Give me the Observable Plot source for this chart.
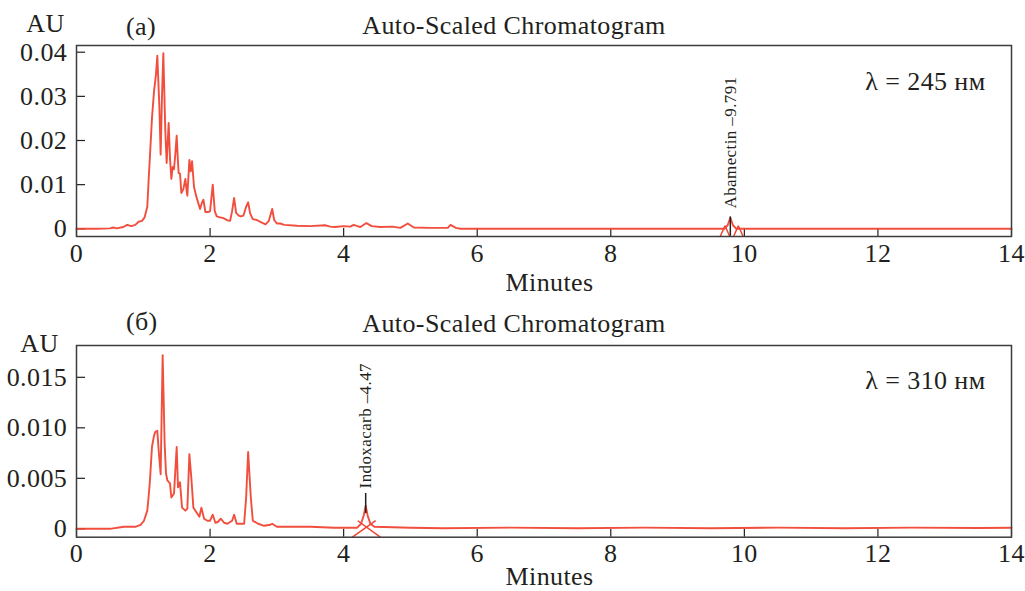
<!DOCTYPE html>
<html><head><meta charset="utf-8">
<script src="https://cdn.jsdelivr.net/npm/d3@7"></script>
<script src="https://cdn.jsdelivr.net/npm/@observablehq/plot@0.6"></script>
<style>body{margin:0;background:#fff}#c{width:1025px;height:591px;overflow:hidden}#c svg{display:block}</style>
</head><body><div id="c"></div><script>
// ---- data ----
const xTicks = [0, 2, 4, 6, 8, 10, 12, 14];

// panel (а) 245 nm
const timesA = [0,0.3,0.5,0.55,0.6,0.7,0.76,0.82,0.88,0.93,0.98,1.02,1.06,1.08,1.10,1.13,1.16,1.19,1.21,1.24,1.26,1.28,1.30,1.33,1.35,1.38,1.40,1.42,1.44,1.46,1.48,1.50,1.52,1.53,1.55,1.57,1.60,1.63,1.65,1.66,1.69,1.71,1.73,1.76,1.80,1.85,1.88,1.90,1.93,1.97,2.00,2.04,2.07,2.10,2.15,2.20,2.26,2.30,2.33,2.36,2.39,2.43,2.46,2.50,2.54,2.57,2.60,2.64,2.70,2.76,2.83,2.88,2.93,2.96,3.00,3.05,3.11,3.3,3.5,3.72,3.8,3.87,4.0,4.10,4.15,4.25,4.34,4.42,4.55,4.73,4.85,4.96,5.05,5.3,5.56,5.60,5.68,5.75,9.70,9.75,9.79,9.83,9.88,14];
const valuesA = [0,0,0.0001,0.0003,0.0001,0.0004,0.0009,0.0006,0.0009,0.0016,0.0018,0.0026,0.0050,0.0110,0.0165,0.0250,0.0310,0.0350,0.0392,0.0280,0.0168,0.0300,0.0398,0.0220,0.0149,0.0240,0.0160,0.0113,0.0140,0.0135,0.0170,0.0211,0.0150,0.0126,0.0125,0.0081,0.0090,0.0113,0.0085,0.0075,0.0156,0.0130,0.0153,0.0094,0.0070,0.0045,0.0060,0.0066,0.0038,0.0038,0.0040,0.0100,0.0040,0.0028,0.0026,0.0024,0.0019,0.0018,0.0040,0.0070,0.0036,0.0030,0.0028,0.0030,0.0050,0.0060,0.0035,0.0022,0.0020,0.0015,0.0010,0.0018,0.0045,0.0020,0.0012,0.0012,0.0009,0.0007,0.0006,0.0008,0.0005,0.0004,0.0006,0.0005,0.0009,0.0004,0.0013,0.0006,0.0004,0.0005,0.0002,0.0012,0.0003,0.0002,0.0002,0.0009,0.0002,0,0,0.0008,0.0025,0.0008,0,0];
const yTicksA = [0, 0.01, 0.02, 0.03, 0.04];
const peakA = {t: 9.79, labelY: 0.0046, y1: 0.0027, y2: -0.0017, label: "Abamectin –9.791"};
const markersA = [
  {x1: 9.64, y1: -0.0017, x2: 9.71, y2: 0.0007}, {x1: 9.71, y1: 0.0007, x2: 9.78, y2: -0.0017},
  {x1: 9.84, y1: -0.0017, x2: 9.91, y2: 0.0007}, {x1: 9.91, y1: 0.0007, x2: 9.98, y2: -0.0017}
];

// panel (б) 310 nm
const timesB = [0,0.5,0.71,0.88,0.96,1.01,1.06,1.08,1.10,1.13,1.16,1.18,1.21,1.23,1.26,1.29,1.32,1.34,1.36,1.40,1.42,1.46,1.50,1.52,1.55,1.58,1.63,1.66,1.69,1.72,1.75,1.81,1.84,1.87,1.91,1.96,2.00,2.04,2.08,2.12,2.16,2.21,2.26,2.33,2.36,2.40,2.51,2.54,2.57,2.61,2.64,2.72,2.81,2.90,2.93,3.0,3.5,3.86,4.2,4.26,4.30,4.33,4.36,4.40,4.46,5.0,5.5,6.5,7.5,8.5,9.5,10.5,11.5,12.5,13.5,14];
const valuesB = [0,0,0.0002,0.0002,0.0004,0.0008,0.0018,0.0032,0.0048,0.0081,0.0092,0.0096,0.0097,0.0078,0.0054,0.0172,0.0084,0.0055,0.0048,0.0045,0.0031,0.0035,0.0081,0.0041,0.0046,0.0021,0.0018,0.0020,0.0074,0.0050,0.0021,0.0015,0.0012,0.0021,0.0010,0.0008,0.0008,0.0014,0.0006,0.0007,0.0010,0.0006,0.0005,0.0008,0.0014,0.0005,0.0005,0.0031,0.0076,0.0031,0.0008,0.0005,0.0003,0.0004,0.0005,0.0002,0.0002,0.0001,0.0001,0.0005,0.0013,0.0023,0.0013,0.0005,0.0002,0.0001,0.00005,0.00012,0.00006,0.00012,0.00005,0.00012,0.00006,0.00012,0.00008,0.0001];
const yTicksB = [0, 0.005, 0.010, 0.015];
const peakB = {t: 4.33, labelY: 0.0040, y1: 0.0035, y2: 0.0015, label: "Indoxacarb –4.47"};
const markersB = [
  {x1: 4.13, y1: -0.00083, x2: 4.48, y2: 0.0008},
  {x1: 4.21, y1: 0.0008, x2: 4.55, y2: -0.00083}
];

const titleText = "Auto-Scaled Chromatogram";

// ---- drawing ----
const RED = "#f04434", INK = "#231f20", FRAME = "#3c3c3c";
const FW = 1025 - 76 - 14;

function panel(o) {
  const data = o.times.map((t, i) => ({t, v: o.values[i]}));
  const fh = o.height - o.marginTop - o.marginBottom;
  return Plot.plot({
    width: 1025, height: o.height,
    marginLeft: 76, marginRight: 14, marginTop: o.marginTop, marginBottom: o.marginBottom,
    style: {fontFamily: "'Liberation Serif','Times New Roman',serif", fontSize: "26px", color: INK, background: "#fff", overflow: "visible", letterSpacing: "0.4px"},
    x: {domain: [0, 14]},
    y: {domain: o.yDomain},
    marks: [
      Plot.axisX(xTicks, {tickSize: 0, tickPadding: o.xPad, label: null, fill: INK}),
      Plot.axisY(o.yTicks, {tickSize: 0, tickPadding: 9.3, label: null, fill: INK, tickFormat: o.yFmt}),
      Plot.tickX(xTicks, {x: d => d, insetTop: fh - 8, stroke: INK, strokeWidth: 1.2}),
      Plot.tickY(o.yTicks, {y: d => d, insetRight: FW - 9, stroke: INK, strokeWidth: 1.2}),
      Plot.link(o.markers, {x1: "x1", y1: "y1", x2: "x2", y2: "y2", stroke: RED, strokeWidth: 1.5}),
      Plot.line(data, {x: "t", y: "v", stroke: RED, strokeWidth: 1.9, strokeOpacity: 0.95}),
      Plot.ruleX([o.peak], {x: "t", y1: "y1", y2: "y2", stroke: INK, strokeWidth: 1.5}),
      Plot.text([o.peak], {x: "t", y: "labelY", text: "label", rotate: -90, textAnchor: "start", lineAnchor: "middle", fontSize: 17, fill: INK}),
      Plot.frame({stroke: FRAME, strokeWidth: 1.5}),
      Plot.text(["AU"], {text: d => d, frameAnchor: "top-left", dx: o.auDx, dy: o.auDy, textAnchor: "middle", lineAnchor: "bottom", fill: INK}),
      Plot.text([o.tag], {text: d => d, frameAnchor: "top-left", dx: o.tagDx, dy: o.tagDy, textAnchor: "middle", lineAnchor: "bottom", fill: INK}),
      Plot.text([titleText], {text: d => d, frameAnchor: "top", dx: -30, dy: o.titleDy, textAnchor: "middle", lineAnchor: "bottom", fill: INK}),
      Plot.text([o.lambda], {text: d => d, frameAnchor: "top-right", dx: -26, dy: o.lambdaDy, textAnchor: "end", lineAnchor: "bottom", fill: INK}),
      Plot.text(["Minutes"], {text: d => d, frameAnchor: "bottom", dx: 5.5, dy: o.minDy, textAnchor: "middle", lineAnchor: "bottom", fill: INK})
    ]
  });
}

const c = document.getElementById("c");
c.append(panel({
  times: timesA, values: valuesA, height: 298, marginTop: 45, marginBottom: 62,
  yDomain: [-0.001744, 0.04152], yTicks: yTicksA,
  yFmt: d => d === 0 ? "0" : d3.format(".2f")(d),
  xPad: 7.5, peak: peakA, markers: markersA,
  auDx: -31, auDy: -14, tag: "(а)", tagDx: 64.5, tagDy: -11, titleDy: -12,
  lambda: "λ = 245 нм", lambdaDy: 44, minDy: 54
}));
c.append(panel({
  times: timesB, values: valuesB, height: 293, marginTop: 47, marginBottom: 54.3,
  yDomain: [-0.00083, 0.01815], yTicks: yTicksB,
  yFmt: d => d === 0 ? "0" : d3.format(".3f")(d),
  xPad: 6.5, peak: peakB, markers: markersB,
  auDx: -37, auDy: 6.7, tag: "(б)", tagDx: 65.3, tagDy: -16, titleDy: -13.3,
  lambda: "λ = 310 нм", lambdaDy: 43.3, minDy: 48
}));
</script></body></html>
